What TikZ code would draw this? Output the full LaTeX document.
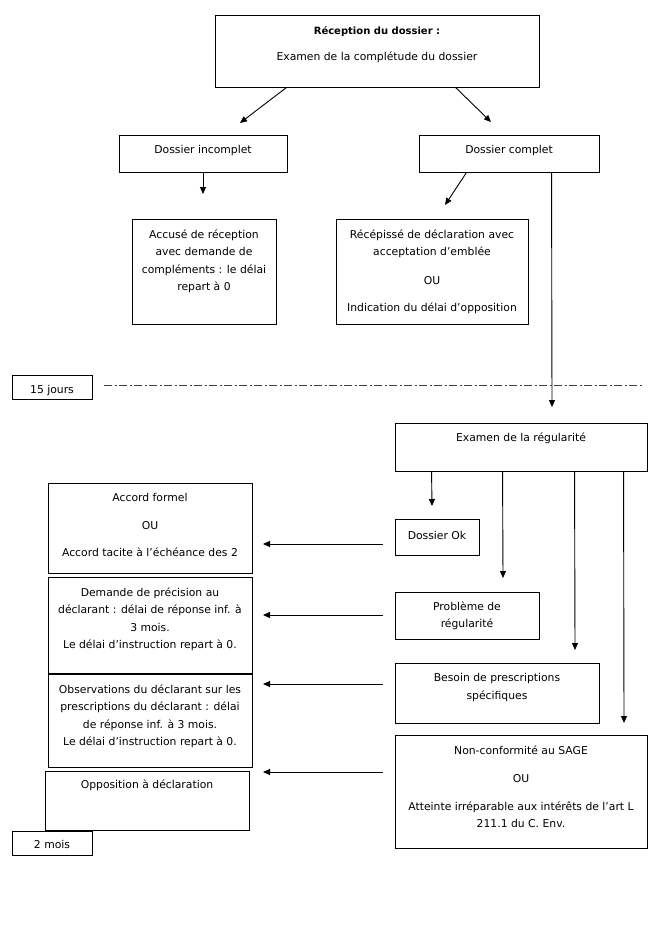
\documentclass[tikz,border=0pt]{standalone}
\usepackage{fontspec}
\setmainfont{DejaVu Sans}
\usetikzlibrary{arrows.meta,calc}
\tikzset{
  box/.style={draw, line width=0.9pt, inner sep=0pt},
  txt/.style={font=\fontsize{10.8}{17.5}\selectfont, align=center, inner sep=0pt, anchor=north},
  arr/.style={line width=0.9pt, -{Triangle[length=7pt,width=6pt]}},
  dashdot/.style={line width=0.9pt, black!75, dash pattern=on 8pt off 2.5pt on 2pt off 2.5pt}
}
\begin{document}
\begin{tikzpicture}[x=1pt,y=-1pt]
\useasboundingbox (0,0) rectangle (672,927);

% ---- boxes ----
\node[box, minimum width=324pt, minimum height=72pt] (top) at (377,51) {};
\node[box, minimum width=168pt, minimum height=37pt] (inc) at (203,153.5) {};
\node[box, minimum width=180pt, minimum height=37pt] (comp) at (509,153.5) {};
\node[box, minimum width=144pt, minimum height=105pt] (acc) at (204,271.5) {};
\node[box, minimum width=192pt, minimum height=105pt] (rec) at (432,271.5) {};
\node[box, minimum width=80pt, minimum height=24pt] (j15) at (52,387) {};
\node[box, minimum width=252pt, minimum height=48pt] (exam) at (521,447) {};
\node[box, minimum width=84pt, minimum height=36pt] (ok) at (437,537) {};
\node[box, minimum width=144pt, minimum height=47pt] (prob) at (467,615.5) {};
\node[box, minimum width=204pt, minimum height=60pt] (bes) at (497,693) {};
\node[box, minimum width=252pt, minimum height=113pt] (nonc) at (521,791.5) {};
\node[box, minimum width=204pt, minimum height=90pt] (accord) at (150,528) {};
\node[box, minimum width=204pt, minimum height=96pt] (dem) at (150,625) {};
\node[box, minimum width=204pt, minimum height=93pt] (obs) at (150,720.5) {};
\node[box, minimum width=204pt, minimum height=59pt] (opp) at (147,800.5) {};
\node[box, minimum width=80pt, minimum height=24pt] (m2) at (52,843) {};

% ---- texts ----
\node[txt] (ttop) at (377,26.5) {\textbf{\fontsize{10}{17.5}\selectfont Réception du dossier :}\\[8.5pt]Examen de la complétude du dossier};
\node[txt] (tinc) at (203,145.5) {Dossier incomplet};
\node[txt] (tcomp) at (509,145.5) {Dossier complet};
\node[txt] (tacc) at (204,229.5) {Accusé de réception\\avec demande de\\compléments : le délai\\repart à 0};
\node[txt] (trec) at (432,229.5) {Récépissé de déclaration avec\\acceptation d’emblée\\[11pt]OU\\[9.5pt]Indication du délai d’opposition};
\node[txt] (tj15) at (52,385) {15 jours};
\node[txt] (texam) at (521,432.5) {Examen de la régularité};
\node[txt] (tok) at (437,531.5) {Dossier Ok};
\node[txt] (tprob) at (467,601.5) {Problème de\\régularité};
\node[txt] (tbes) at (497,673.5) {Besoin de prescriptions\\spécifiques};
\node[txt] (tnonc) at (521,745.5) {Non-conformité au SAGE\\[10.5pt]OU\\[10.5pt]Atteinte irréparable aux intérêts de l’art L\\211.1 du C. Env.};
\node[txt] (taccord) at (150,493.5) {Accord formel\\[10pt]OU\\[10pt]Accord tacite à l’échéance des 2};
\node[txt] (tdem) at (150,587.5) {Demande de précision au\\déclarant : délai de réponse inf. à\\3 mois.\\Le délai d’instruction repart à 0.};
\node[txt] (tobs) at (150,684.5) {Observations du déclarant sur les\\prescriptions du déclarant : délai\\de réponse inf. à 3 mois.\\Le délai d’instruction repart à 0.};
\node[txt] (topp) at (147,779.5) {Opposition à déclaration};
\node[txt] (tm2) at (52,840.5) {2 mois};

% ---- free ends ----
\coordinate (e1) at (240,123);
\coordinate (e2) at (491,122);
\coordinate (e3) at (203,194);
\coordinate (e4) at (445,205);
\coordinate (e5) at (552,407);
\coordinate (e6) at (432,506);
\coordinate (e7) at (503,578);
\coordinate (e8) at (575,650);
\coordinate (e9) at (624,723);
\coordinate (s1) at (383,544);
\coordinate (f1) at (263,544);
\coordinate (s2) at (383,615);
\coordinate (f2) at (263,615);
\coordinate (s3) at (383,684);
\coordinate (f3) at (263,684);
\coordinate (s4) at (383,772);
\coordinate (f4) at (263,772);
\coordinate (d1) at (104,385);
\coordinate (d2) at (643,385);

% ---- connectors ----
\draw[arr] ([xshift=72pt]top.south west) -- (e1);
\draw[arr] ([xshift=241pt]top.south west) -- (e2);
\draw[arr] (inc.south) -- (e3);
\draw[arr] ([xshift=48pt]comp.south west) -- (e4);
\draw[arr] ([xshift=133pt]comp.south west) -- (e5);
\draw[arr] ([xshift=37pt]exam.south west) -- (e6);
\draw[arr] ([xshift=108pt]exam.south west) -- (e7);
\draw[arr] ([xshift=180pt]exam.south west) -- (e8);
\draw[arr] ([xshift=229pt]exam.south west) -- (e9);
\draw[arr] (s1) -- (f1);
\draw[arr] (s2) -- (f2);
\draw[arr] (s3) -- (f3);
\draw[arr] (s4) -- (f4);
\draw[dashdot] (d1) -- (d2);
\end{tikzpicture}
\end{document}
